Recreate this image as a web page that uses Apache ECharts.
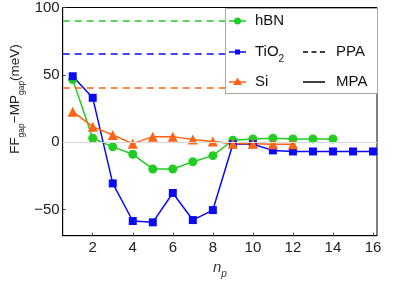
<!DOCTYPE html>
<html>
<head>
<meta charset="utf-8">
<script src="https://cdn.jsdelivr.net/npm/echarts@6/dist/echarts.min.js"></script>
<style>html,body{margin:0;padding:0;background:#fff}#c{width:399px;height:281px}</style>
</head>
<body>
<div id="c"></div>
<script>
var npHBN = [1,2,3,4,5,6,7,8,9,10,11,12,13,14];
var hBN = [46.5, 3, -3.4, -8.9, -19.8, -19.8, -14.4, -9.9, 1.5, 2.5, 3, 2.5, 2.5, 2.5];
var npTiO2 = [1,2,3,4,5,6,7,8,9,10,11,12,13,14,15,16];
var TiO2 = [49, 33, -30.5, -58.4, -59.4, -37.6, -57.7, -50.3, -1.5, -1.5, -6, -6.8, -6.8, -6.8, -6.8, -6.8];
var npSi = [1,2,3,4,5,6,7,8,9,10,11,12];
var Si = [22.7, 11.6, 5.4, -1, 4.2, 4.2, 2, 0.5, -1, -1, -1.5, -1.5];
var ppa = {hBN: 90.2, TiO2: 65.5, Si: 40.4};
var xTicks = [2,4,6,8,10,12,14,16];
var yTicks = [-50,0,50,100];
var legendNames = ['hBN', 'TiO{s|2}', 'Si'];
var methodNames = ['PPA', 'MPA'];

var GREEN = '#22cc22', BLUE = '#0a0af5', ORANGE = '#ff6414';
var FONT = 'Liberation Sans';

function pairs(xs, ys){ return xs.map(function(x,i){ return [x, ys[i]]; }); }

var LZ = 1; // legend layer
var legendGraphics = [
  {type: 'rect', zlevel: LZ, z: 1, shape: {x: 225.5, y: 8.5, width: 152, height: 85}, style: {fill: '#fff', stroke: '#a8a8a8', lineWidth: 1}},
  {type: 'line', zlevel: LZ, z: 2, shape: {x1: 229, y1: 21, x2: 246, y2: 21}, style: {stroke: GREEN, lineWidth: 1.5}},
  {type: 'circle', zlevel: LZ, z: 3, shape: {cx: 237.5, cy: 21, r: 3.5}, style: {fill: GREEN}},
  {type: 'line', zlevel: LZ, z: 2, shape: {x1: 229, y1: 52, x2: 246, y2: 52}, style: {stroke: BLUE, lineWidth: 1.5}},
  {type: 'rect', zlevel: LZ, z: 3, shape: {x: 235, y: 49.5, width: 5, height: 5}, style: {fill: BLUE}},
  {type: 'line', zlevel: LZ, z: 2, shape: {x1: 229, y1: 82, x2: 246, y2: 82}, style: {stroke: ORANGE, lineWidth: 1.5}},
  {type: 'polygon', zlevel: LZ, z: 3, shape: {points: [[237.5, 77.5], [242, 85], [233, 85]]}, style: {fill: ORANGE}},
  {type: 'line', zlevel: LZ, z: 2, shape: {x1: 303, y1: 52, x2: 325, y2: 52}, style: {stroke: '#000', lineWidth: 1.5, lineDash: [5, 3.5]}},
  {type: 'line', zlevel: LZ, z: 2, shape: {x1: 303, y1: 82, x2: 325, y2: 82}, style: {stroke: '#000', lineWidth: 1.5}}
];
var legendTextY = [21, 52, 82];
legendNames.forEach(function(n, i){
  legendGraphics.push({type: 'text', zlevel: LZ, z: 3, x: 255, y: legendTextY[i],
    style: {text: n, fontFamily: FONT, fontSize: 15, fill: '#111', verticalAlign: 'middle', align: 'left',
      rich: {s: {fontFamily: FONT, fontSize: 10, fill: '#111', verticalAlign: 'bottom', padding: [0,0,-5,0]}}}});
});
methodNames.forEach(function(n, i){
  legendGraphics.push({type: 'text', zlevel: LZ, z: 3, x: 336, y: legendTextY[i+1],
    style: {text: n, fontFamily: FONT, fontSize: 15, fill: '#111', verticalAlign: 'middle', align: 'left'}});
});
legendGraphics.push({type: 'text', z: 5, x: 15, y: 99, rotation: Math.PI/2,
  style: {text: '{a|FF}{s|gap}{a|\u2212MP}{s|gap}{a|(meV)}', align: 'center', verticalAlign: 'middle',
    rich: {
      a: {fontFamily: FONT, fontSize: 13.5, fill: '#222', verticalAlign: 'bottom', lineHeight: 15},
      s: {fontFamily: FONT, fontSize: 8.5, fill: '#222', verticalAlign: 'bottom', lineHeight: 9, padding: [0,0,-4,0]}
    }}});

var chart = echarts.init(document.getElementById('c'), null, {renderer:'canvas'});
chart.setOption({
  animation: false,
  backgroundColor: '#fff',
  grid: {left: 62.7, top: 7.5, right: 22, bottom: 45.3, outerBoundsMode: 'none', containLabel: false,
    show: true, borderColor: '#000', borderWidth: 1, backgroundColor: 'transparent'},
  xAxis: {
    type: 'value', min: 0.5, max: 16.2,
    axisLine: {show: true, onZero: false, lineStyle: {color: '#000'}},
    axisTick: {show: true, inside: true, length: 3, customValues: xTicks, lineStyle: {color: '#444'}},
    axisLabel: {customValues: xTicks, color: '#222', fontFamily: FONT, fontSize: 15, margin: 5},
    splitLine: {show: false},
    name: '{i|n}{s|p}', nameLocation: 'middle', nameGap: 21,
    nameTextStyle: {rich: {
      i: {fontFamily: FONT, fontStyle: 'italic', fontSize: 15, color: '#333', verticalAlign: 'bottom', lineHeight: 16},
      s: {fontFamily: FONT, fontStyle: 'italic', fontSize: 10, color: '#333', verticalAlign: 'bottom', lineHeight: 10, padding: [0,0,-4,0]}
    }}
  },
  yAxis: {
    type: 'value', min: -69.3, max: 100,
    axisLine: {show: true, onZero: false, lineStyle: {color: '#000'}},
    axisTick: {show: true, inside: true, length: 3, customValues: yTicks, lineStyle: {color: '#444'}},
    axisLabel: {customValues: yTicks, color: '#222', fontFamily: FONT, fontSize: 15, margin: 3,
      formatter: function(v){ return v < 0 ? '\u2212' + Math.abs(v) : String(v); }},
    splitLine: {show: false}
  },
  graphic: legendGraphics,
  series: [
    {
      name: 'hBN', type: 'line', data: pairs(npHBN, hBN), color: GREEN,
      symbol: 'circle', symbolSize: 9, lineStyle: {width: 1.5}, z: 3,
      markLine: {silent: true, symbol: 'none', label: {show: false}, animation: false,
        data: [
          {yAxis: 0, lineStyle: {color: '#d8d8d8', type: 'solid', width: 1}},
          {yAxis: ppa.hBN, lineStyle: {color: GREEN, type: [7,5], width: 1.5}}
        ]}
    },
    {
      name: 'TiO2', type: 'line', data: pairs(npTiO2, TiO2), color: BLUE,
      symbol: 'rect', symbolSize: 8, lineStyle: {width: 1.5}, z: 3,
      markLine: {silent: true, symbol: 'none', label: {show: false}, animation: false,
        data: [{yAxis: ppa.TiO2, lineStyle: {color: BLUE, type: [7,5], width: 1.5}}]}
    },
    {
      name: 'Si', type: 'line', data: pairs(npSi, Si), color: ORANGE,
      symbol: 'triangle', symbolSize: 10, lineStyle: {width: 1.5}, z: 3,
      markLine: {silent: true, symbol: 'none', label: {show: false}, animation: false,
        data: [{yAxis: ppa.Si, lineStyle: {color: ORANGE, type: [7,5], width: 1.5}}]}
    }
  ]
});
</script>
</body>
</html>
